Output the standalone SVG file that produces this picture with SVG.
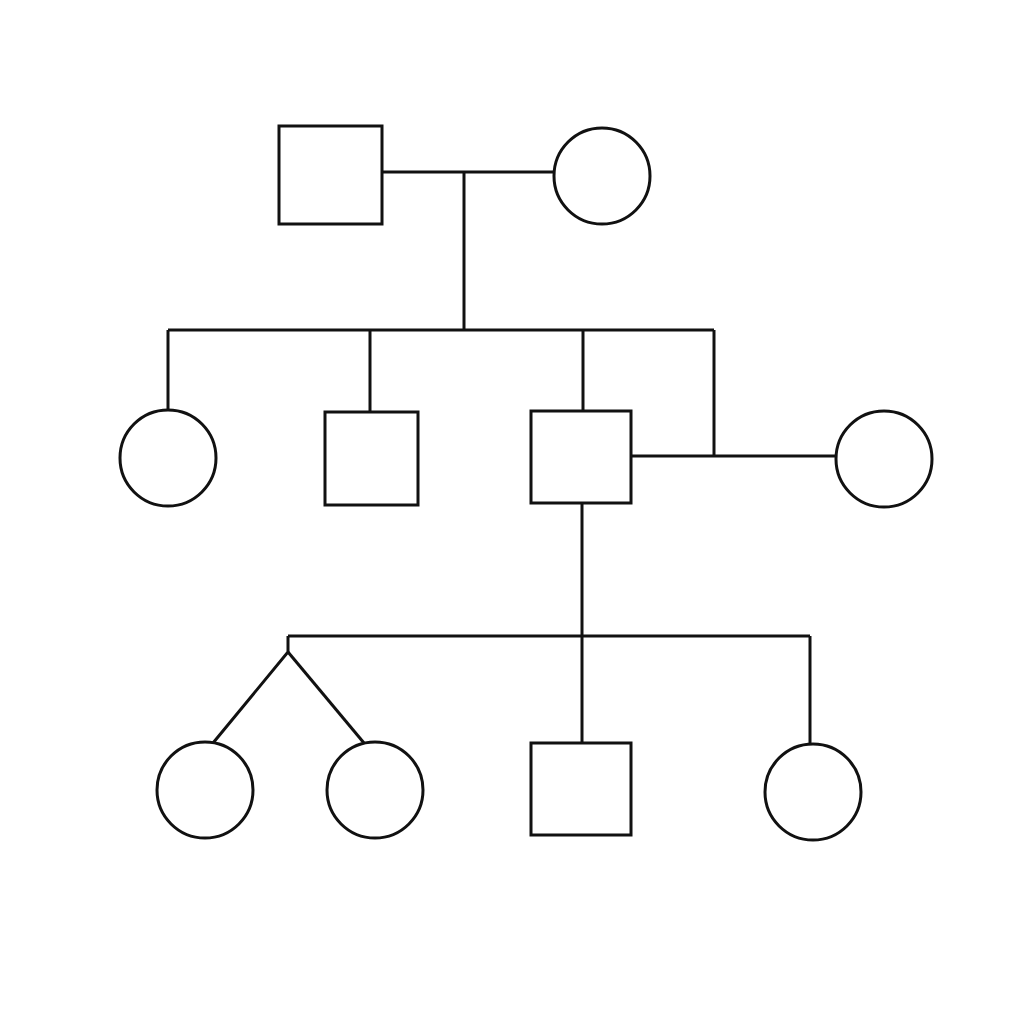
<svg xmlns="http://www.w3.org/2000/svg" width="1024" height="1024" viewBox="0 0 1024 1024">
<style>
.n{fill:#fff;stroke:#111;stroke-width:3}
.c{fill:none;stroke:#111;stroke-width:3}
</style>
<rect width="1024" height="1024" fill="#fff"/>
<g id="connectors" class="c">
<path d="M382 172H554"/>
<path d="M464 172V330"/>
<path d="M168 330H714"/>
<path d="M168 330V410"/>
<path d="M370 330V412"/>
<path d="M583 330V411"/>
<path d="M714 330V456"/>
<path d="M631 456H836"/>
<path d="M582 503V636"/>
<path d="M288 636H810"/>
<path d="M288 636V652L213 743"/>
<path d="M288 652L364 743"/>
<path d="M582 636V743"/>
<path d="M810 636V745"/>
</g>
<g id="gen1-father"><rect class="n" x="279" y="126" width="103" height="98"/></g>
<g id="gen1-mother"><circle class="n" cx="602" cy="176" r="48"/></g>
<g id="gen2-daughter"><circle class="n" cx="168" cy="458" r="48"/></g>
<g id="gen2-son1"><rect class="n" x="325" y="412" width="93" height="93"/></g>
<g id="gen2-son2"><rect class="n" x="531" y="411" width="100" height="92"/></g>
<g id="gen2-spouse"><circle class="n" cx="884" cy="459" r="48"/></g>
<g id="gen3-twin1"><circle class="n" cx="205" cy="790" r="48"/></g>
<g id="gen3-twin2"><circle class="n" cx="375" cy="790" r="48"/></g>
<g id="gen3-son"><rect class="n" x="531" y="743" width="100" height="92"/></g>
<g id="gen3-daughter"><circle class="n" cx="813" cy="792" r="48"/></g>
</svg>
